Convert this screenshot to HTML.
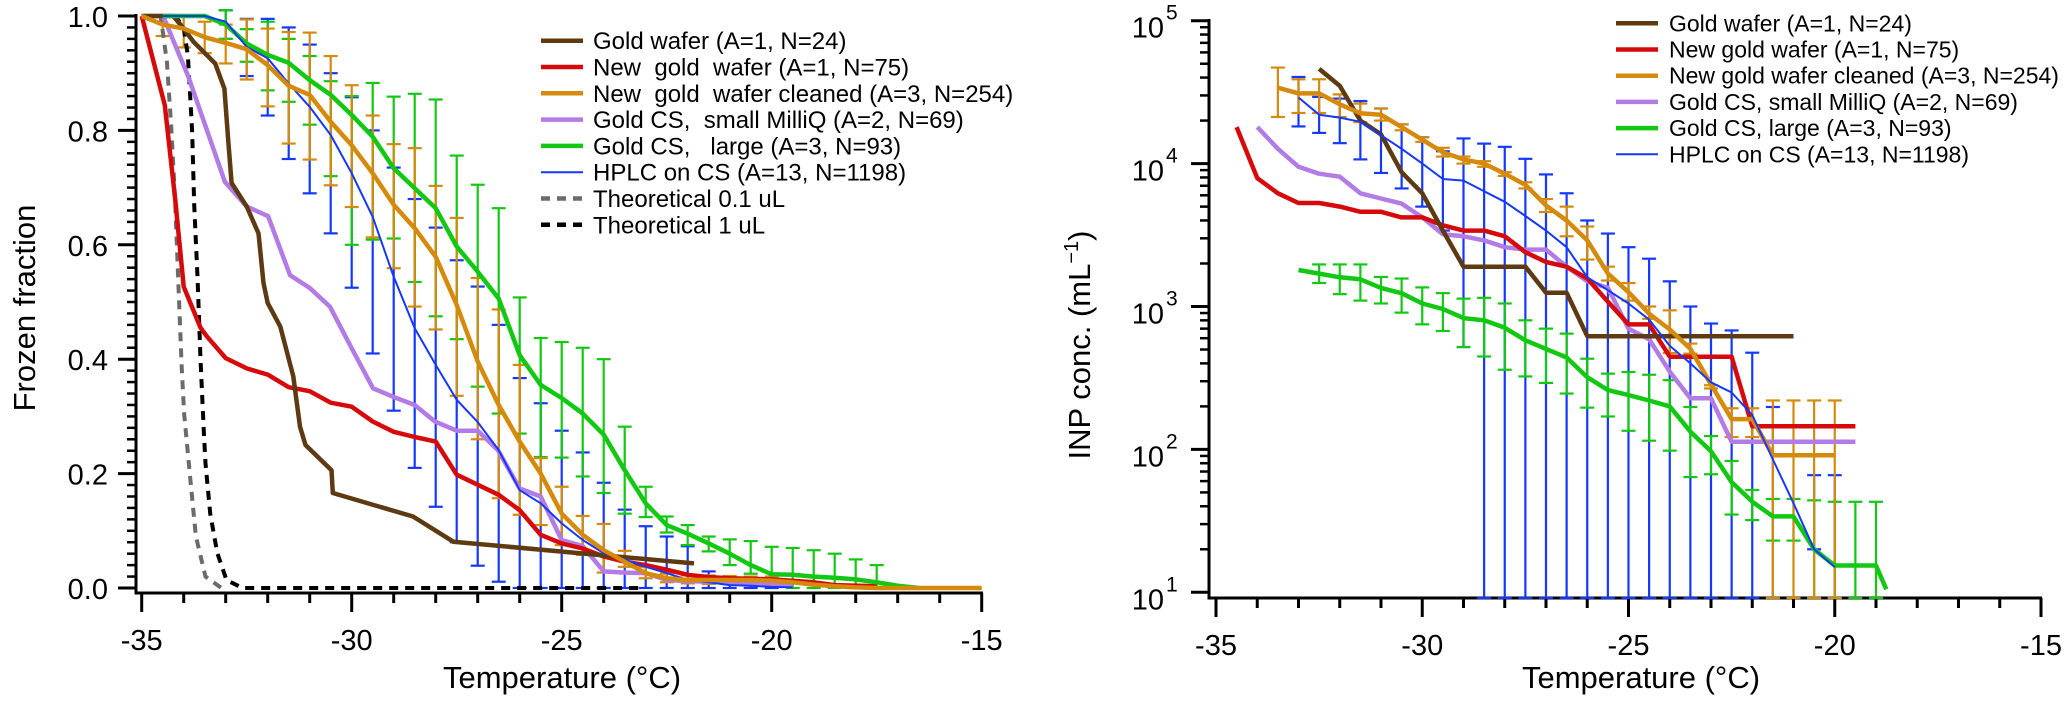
<!DOCTYPE html>
<html><head><meta charset="utf-8"><style>
html,body{margin:0;padding:0;background:#fff;}
svg{display:block;font-family:"Liberation Sans",Arial,sans-serif;}
</style></head><body>
<svg id="fig" width="2067" height="703" viewBox="0 0 2067 703" xmlns="http://www.w3.org/2000/svg">
<g id="left"></g>
<g id="right"></g>
</svg>
<script>
// ---------- LEFT CHART DATA (frozen fraction) ----------
const L_XTICKS=[-35,-30,-25,-20,-15];
const L_YTICKS=[0,0.2,0.4,0.6,0.8,1.0];
const L_YLABELS=["0.0","0.2","0.4","0.6","0.8","1.0"];
const L_BROWN_T=[-35,-34.25,-34,-33.77,-33.25,-33.03,-32.94,-32.86,-32.5,-32.22,-32.1,-32,-31.7,-31.39,-31.23,-31.1,-30.48,-30.45,-28.54,-27.58,-24.6,-21.85];
const L_BROWN_V=[1,1,0.978,0.955,0.917,0.873,0.783,0.708,0.667,0.62,0.533,0.498,0.457,0.37,0.282,0.25,0.206,0.166,0.125,0.081,0.061,0.043];
const L_RED_T=[-35,-34.45,-34.2,-34,-33.6,-33.45,-33,-32.5,-32,-31.5,-31,-30.5,-30,-29.5,-29,-28.5,-28,-27.5,-26.5,-26,-25.5,-25,-24.5,-24,-23.5,-23,-22.5,-22,-21.5,-21,-20,-19,-18.5,-17.5];
const L_RED_V=[1,0.844,0.678,0.527,0.455,0.44,0.402,0.384,0.373,0.351,0.344,0.324,0.317,0.291,0.273,0.264,0.256,0.198,0.163,0.136,0.093,0.078,0.069,0.055,0.046,0.04,0.032,0.023,0.019,0.017,0.015,0.01,0.005,0.003];
const L_ORANGE_T=[-35,-34.5,-34,-33.5,-33,-32.5,-32,-31.5,-31,-30.5,-30,-29.5,-29,-28.5,-28,-27.5,-27,-26.5,-26,-25.5,-25,-24.5,-24,-23.5,-23,-22.5,-22,-21.5,-21,-20.5,-20,-19.5,-19,-18.5,-18,-17.5,-17,-16.5,-16,-15.5,-15];
const L_ORANGE_V=[1,0.985,0.978,0.963,0.953,0.942,0.914,0.878,0.862,0.815,0.774,0.725,0.67,0.629,0.579,0.495,0.396,0.32,0.256,0.2,0.13,0.093,0.066,0.046,0.026,0.017,0.014,0.014,0.014,0.014,0.013,0.01,0.006,0.003,0.001,0,0,0,0,0,0];
const L_ORANGE_ET=[-34.5,-34,-33.5,-33,-32.5,-32,-31.5,-31,-30.5,-30,-29.5,-29,-28.5,-28,-27.5,-27,-26.5,-26,-25.5,-25,-24.5,-24,-23.5,-23,-22.5,-22,-21.5,-21,-20.5,-20];
const L_ORANGE_LO=[0.965,0.945,0.935,0.917,0.889,0.842,0.777,0.749,0.704,0.666,0.613,0.559,0.492,0.452,0.336,0.26,0.157,0.128,0.11,0.075,0.058,0.027,0.037,0.017,0.01,0.008,0.007,0.007,0.006,0.005];
const L_ORANGE_HI=[1.0,1.0,0.99,0.985,0.994,0.978,0.972,0.971,0.93,0.879,0.826,0.776,0.769,0.703,0.647,0.542,0.487,0.39,0.227,0.177,0.126,0.112,0.065,0.037,0.025,0.022,0.022,0.021,0.02,0.02];
const L_GREEN_T=[-34.5,-34,-33.5,-33,-32.5,-32,-31.5,-31,-30.5,-30,-29.5,-29,-28.5,-28,-27.5,-27,-26.5,-26,-25.5,-25,-24.5,-24,-23.5,-23,-22.5,-22,-21.5,-21,-20.5,-20,-19.5,-19,-18.5,-18,-17.5,-17,-16.5];
const L_GREEN_V=[1,1,1,0.985,0.952,0.932,0.918,0.888,0.862,0.827,0.789,0.734,0.699,0.664,0.597,0.553,0.506,0.407,0.355,0.332,0.305,0.268,0.206,0.148,0.11,0.095,0.078,0.06,0.04,0.024,0.023,0.02,0.018,0.015,0.01,0.004,0];
const L_GREEN_ET=[-33,-32.5,-32,-31.5,-31,-30.5,-30,-29.5,-29,-28.5,-28,-27.5,-27,-26.5,-26,-25.5,-25,-24.5,-24,-23.5,-23,-22.5,-22,-21.5,-21,-20.5,-20,-19.5,-19,-18.5,-18,-17.5];
const L_GREEN_LO=[0.96,0.92,0.87,0.85,0.81,0.72,0.6,0.609,0.611,0.535,0.475,0.435,0.352,0.305,0.27,0.229,0.228,0.195,0.166,0.13,0.124,0.097,0.075,0.064,0.04,0.025,0.01,0,0,0,0,0];
const L_GREEN_HI=[1.01,0.977,0.99,0.96,0.93,0.886,0.86,0.883,0.859,0.864,0.854,0.756,0.705,0.664,0.508,0.437,0.43,0.42,0.4,0.282,0.177,0.125,0.11,0.09,0.085,0.082,0.072,0.07,0.066,0.06,0.05,0.04];
const L_BLUE_T=[-34.5,-34,-33.5,-33,-32.5,-32,-31.5,-31,-30.5,-30,-29.5,-29,-28.5,-28,-27.5,-27,-26.5,-26,-25.5,-25,-24.5,-24,-23.5,-23,-22.5,-22,-21.5,-21,-20.5,-20,-19.5];
const L_BLUE_V=[1,1,1,0.99,0.946,0.926,0.882,0.841,0.792,0.725,0.649,0.544,0.454,0.39,0.329,0.29,0.241,0.171,0.148,0.113,0.084,0.061,0.05,0.037,0.026,0.014,0.01,0.005,0.004,0.002,0.001];
const L_BLUE_ET=[-33,-32.5,-32,-31.5,-31,-30.5,-30,-29.5,-29,-28.5,-28,-27.5,-27,-26.5,-26,-25.5,-25,-24.5,-24,-23.5,-23,-22.5,-22,-21.5,-21,-20.5,-20];
const L_BLUE_LO=[0.96,0.895,0.826,0.75,0.69,0.62,0.525,0.41,0.31,0.21,0.142,0.08,0.039,0.011,0,0,0,0,0,0,0,0,0,0,0,0,0];
const L_BLUE_HI=[1.01,0.995,0.995,0.98,0.95,0.9,0.858,0.8,0.735,0.68,0.63,0.573,0.527,0.46,0.367,0.323,0.275,0.237,0.184,0.137,0.108,0.09,0.073,0.029,0.01,0.008,0.005];
const L_PURPLE_T=[-35,-34.49,-33.89,-33.02,-32.5,-31.99,-31.47,-30.99,-30.52,-30,-29.49,-29,-28.5,-28.02,-27.5,-27,-26.52,-26,-25.5,-25,-24.5,-24,-23.5,-23,-22.5,-22,-21,-20,-19.5];
const L_PURPLE_V=[1,1,0.894,0.71,0.667,0.65,0.547,0.524,0.492,0.419,0.349,0.334,0.32,0.291,0.275,0.275,0.241,0.174,0.16,0.084,0.073,0.029,0.027,0.026,0.014,0.012,0.01,0.008,0.005];
const L_GRAY_T=[-35,-34.55,-34.4,-34.3,-34.2,-34.13,-34.05,-33.99,-33.84,-33.71,-33.48,-33.1,-33.0];
const L_GRAY_V=[1,1,0.92,0.81,0.67,0.54,0.39,0.305,0.189,0.09,0.02,0,0];
const L_BLACK_T=[-35,-34.2,-34,-33.9,-33.8,-33.75,-33.67,-33.6,-33.52,-33.48,-33.37,-33.2,-32.98,-32.6,-23.1];
const L_BLACK_V=[1,1,0.98,0.93,0.8,0.67,0.54,0.4,0.27,0.218,0.13,0.061,0.014,0,0];
const L_LEGEND=["Gold wafer (A=1, N=24)","New  gold  wafer (A=1, N=75)","New  gold  wafer cleaned (A=3, N=254)","Gold CS,  small MilliQ (A=2, N=69)","Gold CS,   large (A=3, N=93)","HPLC on CS (A=13, N=1198)","Theoretical 0.1 uL","Theoretical 1 uL"];

// ---------- RIGHT CHART DATA (INP concentration) ----------
const R_XTICKS=[-35,-30,-25,-20,-15];
const R_YEXP=[1,2,3,4,5];
const R_BROWN_T=[-32.5,-32,-31.5,-31,-30.5,-30,-29.5,-29,-28.5,-28,-27.5,-27,-26.5,-26,-21];
const R_BROWN_V=[46000,35000,20000,16000,8700,6200,3400,1900,1900,1900,1900,1250,1250,620,620];
const R_RED_T=[-34.5,-34,-33.5,-33,-32.5,-32,-31.5,-31,-30.5,-30,-29.5,-29,-28.5,-28,-27.5,-27,-26.5,-26,-25.5,-25,-24.5,-24,-23.5,-23,-22.5,-22,-21.5,-21,-20.5,-20,-19.5];
const R_RED_V=[18000,7900,6200,5300,5300,5000,4600,4600,4200,4200,3700,3400,3400,3100,2400,2050,1900,1570,1080,750,750,445,445,445,445,145,145,145,145,145,145];
const R_ORANGE_T=[-33.5,-33,-32.5,-32,-31.5,-31,-30.5,-30,-29.5,-29,-28.5,-28,-27.5,-27,-26.5,-26,-25.5,-25,-24.5,-24,-23.5,-23,-22.5,-22,-21.5,-21,-20.5,-20];
const R_ORANGE_V=[34000,31000,31000,26000,22500,22000,18000,14700,12000,10700,10000,8500,7100,5100,4000,2900,1700,1260,890,690,505,285,163,163,91,91,91,91];
const R_ORANGE_LO=[21200,22600,22600,21200,19500,20000,17100,14200,11200,10000,9500,8200,6700,4580,3100,2130,1520,1100,820,473,468,267,122,122,9,9,9,9];
const R_ORANGE_HI=[47000,38900,38900,30500,26300,24300,18800,15300,12900,11200,10400,8700,7400,5650,5000,3630,1900,1460,1000,940,550,281,194,194,220,220,220,220];
const R_PURPLE_T=[-34,-33.5,-33,-32.5,-32,-31.5,-31,-30.5,-30,-29.5,-29,-28.5,-28,-27.5,-27,-26.5,-26,-25.5,-25,-24.5,-24,-23.5,-23,-22.5,-19.5];
const R_PURPLE_V=[18000,12700,9500,8500,8100,6200,5700,5250,4200,3200,3100,2900,2600,2500,2500,1900,1500,1350,700,590,350,228,228,113,113];
const R_GREEN_T=[-33,-32.5,-32,-31.5,-31,-30.5,-30,-29.5,-29,-28.5,-28,-27.5,-27,-26.5,-26,-25.5,-25,-24.5,-24,-23.5,-23,-22.5,-22,-21.5,-21,-20.5,-20,-19.5,-19,-18.75];
const R_GREEN_V=[1800,1700,1600,1550,1350,1240,1050,960,830,800,710,580,505,440,320,260,240,220,200,133,97,59,43,34,34,20,15.4,15.4,15.4,10.5];
const R_GREEN_ET=[-32.5,-32,-31.5,-31,-30.5,-30,-29.5,-29,-28.5,-28,-27.5,-27,-26.5,-26,-25.5,-25,-24.5,-24,-23.5,-23,-22.5,-22,-21.5,-21,-20.5,-20,-19.5,-19];
const R_GREEN_LO=[1460,1220,1100,1050,906,750,674,521,447,361,324,292,246,196,170,135,115,98,64,67,35,32,23,23,9,9,9,9];
const R_GREEN_HI=[1970,1970,1970,1610,1570,1360,1240,1135,1150,1050,800,700,646,431,339,348,333,305,198,124,83,52,45,45,44,43,43,43];
const R_BLUE_T=[-33,-32.5,-32,-31.5,-31,-30.5,-30,-29.5,-29,-28.5,-28,-27.5,-27,-26.5,-26,-25.5,-25,-24.5,-24,-23.5,-23,-22.5,-22,-21.5,-21,-20.5,-20];
const R_BLUE_V=[29000,22000,21000,19600,15800,12700,10000,7800,7600,6400,5400,4300,3400,2600,1600,1300,1050,810,530,400,295,250,174,85,42,20,15];
const R_BLUE_ET=[-33,-32.5,-32,-31.5,-31,-30.5,-30,-29.5,-29,-28.5,-28,-27.5,-27,-26.5,-26,-25.5,-25,-24.5,-24,-23.5,-23,-22.5,-22,-21.5,-20.5,-20];
const R_BLUE_LO=[18200,16400,13900,10700,8600,6700,5000,3400,520,9,9,9,9,9,9,9,9,9,9,9,9,9,9,9,20,9];
const R_BLUE_HI=[40400,29300,28500,27400,24300,18800,15300,12200,15000,13800,13100,10800,8400,6200,4000,3240,2600,2160,1500,1000,760,680,475,198,66,66];
const R_LEGEND=["Gold wafer (A=1, N=24)","New gold wafer (A=1, N=75)","New gold wafer cleaned (A=3, N=254)","Gold CS, small MilliQ (A=2, N=69)","Gold CS, large (A=3, N=93)","HPLC on CS (A=13, N=1198)"];

const C={brown:"#5e3a12",red:"#d60a0a",orange:"#d68a0c",purple:"#b27be6",green:"#12c812",blue:"#1438ff",gray:"#6b6b6b",black:"#000"};
const NS="http://www.w3.org/2000/svg";
function mk(parent,tag,attrs){const e=document.createElementNS(NS,tag);for(const k in attrs)e.setAttribute(k,attrs[k]);parent.appendChild(e);return e;}

function xL(t){return 141.7+(t+35)*42;}
function yL(v){return 588-572*v;}
function xR(t){return 1216+(t+35)*41.25;}
function yR(v){return Math.min(598,592.3-(Math.log10(v)-1)*142.9);}

const gL=document.getElementById('left');
const gR=document.getElementById('right');

function drawLine(g,T,V,fx,fy,color,w,name,dash){
  const pts=T.map((t,i)=>fx(t).toFixed(1)+","+fy(V[i]).toFixed(1)).join(" ");
  const p=mk(g,"polyline",{points:pts,fill:"none",stroke:color,"stroke-width":w,"stroke-linejoin":"round"});
  if(dash)p.setAttribute("stroke-dasharray",dash);
  
  
}
function drawErr(g,T,LO,HI,fx,fy,color,name){
  const grp=mk(g,"g",{});
  
  
  T.forEach((t,i)=>{
    const x=fx(t),y1=fy(LO[i]),y2=fy(HI[i]);
    mk(grp,"line",{x1:x,x2:x,y1:y1,y2:y2,stroke:color,"stroke-width":2.2});
    mk(grp,"line",{x1:x-7,x2:x+7,y1:y1,y2:y1,stroke:color,"stroke-width":2.2});
    mk(grp,"line",{x1:x-7,x2:x+7,y1:y2,y2:y2,stroke:color,"stroke-width":2.2});
  });
}
function txt(g,x,y,s,size,anchor,name){
  const e=mk(g,"text",{x:x,y:y,"font-size":size,"text-anchor":anchor||"start",fill:"#000"});
  e.textContent=s;
  
  
  return e;
}

// ===== LEFT AXES =====
(function(){
  const ax=mk(gL,"g",{});
  
  
  mk(ax,"line",{x1:136,x2:136,y1:14,y2:594.5,stroke:"#000","stroke-width":3});
  mk(ax,"line",{x1:134.5,x2:983,y1:593,y2:593,stroke:"#000","stroke-width":3});
  for(let k=0;k<=50;k++){const v=k*0.02;const y=yL(v);const major=k%10===0;
    mk(ax,"line",{x1:major?118:127,x2:136,y1:y,y2:y,stroke:"#000","stroke-width":major?3:2.5});}
  for(let t=-35;t<=-15;t++){const x=xL(t);const major=(t%5===0);
    mk(ax,"line",{x1:x,x2:x,y1:593,y2:major?612:603,stroke:"#000","stroke-width":3});}
  L_YTICKS.forEach((v,i)=>txt(gL,108,yL(v)+11,L_YLABELS[i],29,"end","y-tick-label"));
  L_XTICKS.forEach(t=>txt(gL,xL(t),650,String(t),29,"middle","x-tick-label"));
  txt(gL,562,688,"Temperature (°C)",31,"middle","x-axis-title");
  const yt=txt(gL,0,0,"Frozen fraction",31,"middle","y-axis-title");
  yt.setAttribute("transform","translate(35,308) rotate(-90)");
})();

// ===== LEFT SERIES =====
drawErr(gL,L_BLUE_ET,L_BLUE_LO,L_BLUE_HI,xL,yL,C.blue,"hplc-error-bars");
drawErr(gL,L_GREEN_ET,L_GREEN_LO,L_GREEN_HI,xL,yL,C.green,"gold-cs-large-error-bars");
drawErr(gL,L_ORANGE_ET,L_ORANGE_LO,L_ORANGE_HI,xL,yL,C.orange,"new-gold-wafer-cleaned-error-bars");
drawLine(gL,L_GRAY_T,L_GRAY_V,xL,yL,C.gray,4,"theoretical-0.1ul-line","9,7");
drawLine(gL,L_BLACK_T,L_BLACK_V,xL,yL,C.black,4,"theoretical-1ul-line","9,7");
drawLine(gL,L_PURPLE_T,L_PURPLE_V,xL,yL,C.purple,4.5,"gold-cs-small-milliq-line");
drawLine(gL,L_RED_T,L_RED_V,xL,yL,C.red,4.5,"new-gold-wafer-line");
drawLine(gL,L_BROWN_T,L_BROWN_V,xL,yL,C.brown,4.5,"gold-wafer-line");
drawLine(gL,L_GREEN_T,L_GREEN_V,xL,yL,C.green,4.5,"gold-cs-large-line");
drawLine(gL,L_BLUE_T,L_BLUE_V,xL,yL,C.blue,2,"hplc-line");
drawLine(gL,L_ORANGE_T,L_ORANGE_V,xL,yL,C.orange,4.5,"new-gold-wafer-cleaned-line");

// ===== LEFT LEGEND =====
(function(){
  const cols=[C.brown,C.red,C.orange,C.purple,C.green,C.blue,C.gray,C.black];
  const g=mk(gL,"g",{});
  
  
  L_LEGEND.forEach((s,i)=>{const y=40.7+26.3*i;
    const e=mk(g,"g",{});
    
    
    const l=mk(e,"line",{x1:541,x2:583,y1:y,y2:y,stroke:cols[i],"stroke-width":i===5?2:4.5});
    if(i>=6)l.setAttribute("stroke-dasharray","9,7");
    const t=mk(e,"text",{x:593,y:y+8.5,"font-size":24,fill:"#000"});t.textContent=s;t.style.whiteSpace="pre";
  });
})();

// ===== RIGHT AXES =====
(function(){
  const ax=mk(gR,"g",{});
  
  
  mk(ax,"line",{x1:1209,x2:1209,y1:19,y2:599.5,stroke:"#000","stroke-width":3});
  mk(ax,"line",{x1:1207.5,x2:2042,y1:598,y2:598,stroke:"#000","stroke-width":3});
  for(let d=1;d<=5;d++){const y=yR(Math.pow(10,d));
    mk(ax,"line",{x1:1191,x2:1209,y1:y,y2:y,stroke:"#000","stroke-width":3});
    if(d<5)for(let m=2;m<=9;m++){const ym=yR(m*Math.pow(10,d));mk(ax,"line",{x1:1200,x2:1209,y1:ym,y2:ym,stroke:"#000","stroke-width":2.5});}
  }
  for(let t=-35;t<=-15;t++){const x=xR(t);const major=(t%5===0);
    mk(ax,"line",{x1:x,x2:x,y1:598,y2:major?617:608,stroke:"#000","stroke-width":3});}
  R_YEXP.forEach(d=>{const y=yR(Math.pow(10,d));
    txt(gR,1164,y+17,"10",29,"end","y-tick-label");
    txt(gR,1166,y-1,String(d),21,"start","y-tick-exponent");});
  R_XTICKS.forEach(t=>txt(gR,xR(t),655,String(t),29,"middle","x-tick-label"));
  txt(gR,1641,688,"Temperature (°C)",31,"middle","x-axis-title");
  const yt=mk(gR,"text",{"font-size":31,"text-anchor":"middle",fill:"#000",transform:"translate(1090,345) rotate(-90)"});
  
  
  yt.innerHTML='INP conc. (mL<tspan font-size="20" dy="-12">−1</tspan><tspan dy="12">)</tspan>';
})();

// ===== RIGHT SERIES =====
drawErr(gR,R_BLUE_ET,R_BLUE_LO,R_BLUE_HI,xR,yR,C.blue,"hplc-error-bars");
drawErr(gR,R_GREEN_ET,R_GREEN_LO,R_GREEN_HI,xR,yR,C.green,"gold-cs-large-error-bars");
drawErr(gR,R_ORANGE_T,R_ORANGE_LO,R_ORANGE_HI,xR,yR,C.orange,"new-gold-wafer-cleaned-error-bars");
drawLine(gR,R_PURPLE_T,R_PURPLE_V,xR,yR,C.purple,4.5,"gold-cs-small-milliq-line");
drawLine(gR,R_RED_T,R_RED_V,xR,yR,C.red,4.5,"new-gold-wafer-line");
drawLine(gR,R_BROWN_T,R_BROWN_V,xR,yR,C.brown,4.5,"gold-wafer-line");
drawLine(gR,R_GREEN_T,R_GREEN_V,xR,yR,C.green,4.5,"gold-cs-large-line");
drawLine(gR,R_ORANGE_T,R_ORANGE_V,xR,yR,C.orange,4.5,"new-gold-wafer-cleaned-line");
drawLine(gR,R_BLUE_T,R_BLUE_V,xR,yR,C.blue,2,"hplc-line");

// ===== RIGHT LEGEND =====
(function(){
  const cols=[C.brown,C.red,C.orange,C.purple,C.green,C.blue];
  const g=mk(gR,"g",{});
  
  
  R_LEGEND.forEach((s,i)=>{const y=23.3+26.2*i;
    const e=mk(g,"g",{});
    
    
    mk(e,"line",{x1:1616,x2:1658,y1:y,y2:y,stroke:cols[i],"stroke-width":i===5?2:4.5});
    const t=mk(e,"text",{x:1669,y:y+8,"font-size":23,fill:"#000"});t.textContent=s;
  });
})();
</script>
</body></html>
